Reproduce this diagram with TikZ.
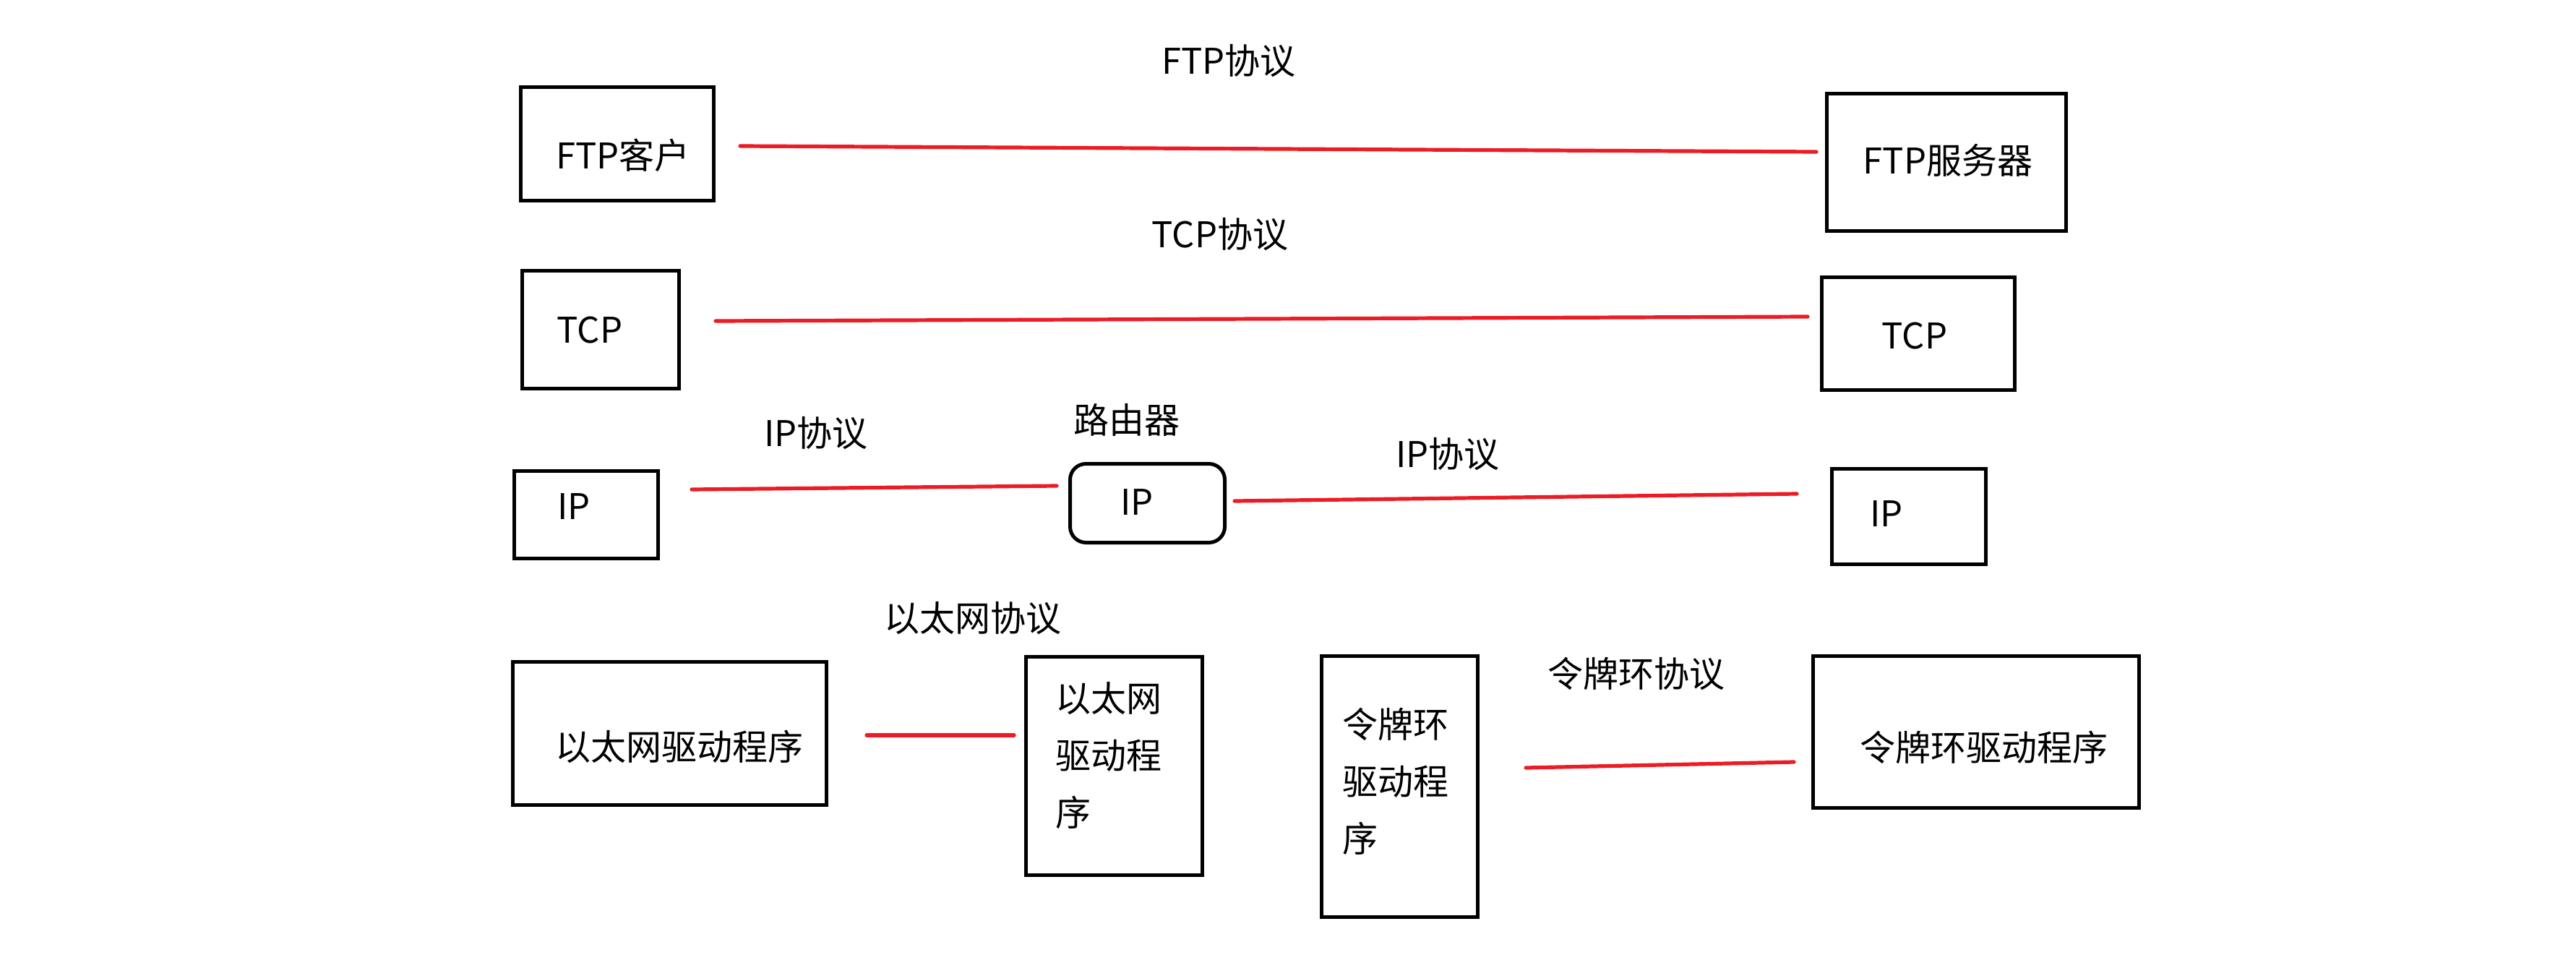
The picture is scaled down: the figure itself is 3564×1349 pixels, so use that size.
\documentclass[tikz,border=0pt]{standalone}
\usepackage{fontspec}
\setmainfont{Noto Sans CJK SC}
\begin{document}
\begin{tikzpicture}[x=0.5pt,y=-0.5pt,
  layerbox/.style={draw=black, line width=2.5pt, inner sep=0pt},
  routerbox/.style={layerbox, rounded corners=11pt},
  txt/.style={inner sep=0pt, font=\fontsize{24.5}{39.5}\selectfont},
  stacked/.style={txt, anchor=west, align=left},
  proto/.style={draw={rgb,255:red,237;green,28;blue,36}, line width=2.6pt, line cap=round}]
\useasboundingbox (0,0) rectangle (3564,1349);

% FTP layer
\node[layerbox, minimum width=133.5pt, minimum height=78.5pt] (ftpc) at (854,199) {};
\node[txt] (ftpct) at (862,215) {FTP客户};
\node[layerbox, minimum width=165.5pt, minimum height=95pt] (ftps) at (2693,224.5) {};
\node[txt] (ftpst) at (2695,222) {FTP服务器};
\node[txt] (ftpp) at (1700,84) {FTP协议};
\draw[proto] ([shift={(34,3)}]ftpc.east) -- ([shift={(-12,-14.5)}]ftps.west);

% TCP layer
\node[layerbox, minimum width=108.5pt, minimum height=81.5pt] (tcpl) at (831,456) {};
\node[txt] (tcplt) at (816,457) {TCP};
\node[layerbox, minimum width=133.5pt, minimum height=78pt] (tcpr) at (2654,461.5) {};
\node[txt] (tcprt) at (2649,465) {TCP};
\node[txt] (tcpp) at (1688,324) {TCP协议};
\draw[proto] ([shift={(48,-12)}]tcpl.east) -- ([shift={(-17,-23.5)}]tcpr.west);

% IP layer with router
\node[layerbox, minimum width=99.5pt, minimum height=60.5pt] (ipl) at (811,712) {};
\node[txt] (iplt) at (794,701) {IP};
\node[routerbox, minimum width=107pt, minimum height=54.5pt] (router) at (1587.5,696) {};
\node[txt] (routert) at (1573,695) {IP};
\node[txt] (routerlbl) at (1559,581) {路由器};
\node[layerbox, minimum width=106.5pt, minimum height=66pt] (ipr) at (2641,714.5) {};
\node[txt] (iprt) at (2610,711) {IP};
\node[txt] (ippl) at (1129,599) {IP协议};
\node[txt] (ippr) at (2003,628) {IP协议};
\draw[proto] ([shift={(44,-35)}]ipl.east) -- ([shift={(-16,-24)}]router.west);
\draw[proto] ([shift={(11,-3)}]router.east) -- ([shift={(-46,-31.5)}]ipr.west);

% Ethernet link
\node[layerbox, minimum width=217pt, minimum height=99pt] (ethl) at (926.5,1014.5) {};
\node[txt] (ethlt) at (940,1033) {以太网驱动程序};
\node[layerbox, minimum width=122pt, minimum height=151pt] (ethr) at (1541.5,1059.5) {};
\node[stacked] (ethrt) at (1460,1045) {以太网\\驱动程\\序};
\node[txt] (ethp) at (1346,855) {以太网协议};
\draw[proto] ([shift={(53,2.5)}]ethl.east) -- ([shift={(-14,-42.5)}]ethr.west);

% Token ring link
\node[layerbox, minimum width=108pt, minimum height=180.5pt] (tokl) at (1936.5,1088) {};
\node[stacked] (toklt) at (1857,1081) {令牌环\\驱动程\\序};
\node[layerbox, minimum width=225.5pt, minimum height=105pt] (tokr) at (2734,1012.5) {};
\node[txt] (tokrt) at (2745,1034) {令牌环驱动程序};
\node[txt] (tokp) at (2264,932) {令牌环协议};
\draw[proto] ([shift={(64,-26)}]tokl.east) -- ([shift={(-24,41.5)}]tokr.west);
\end{tikzpicture}
\end{document}
